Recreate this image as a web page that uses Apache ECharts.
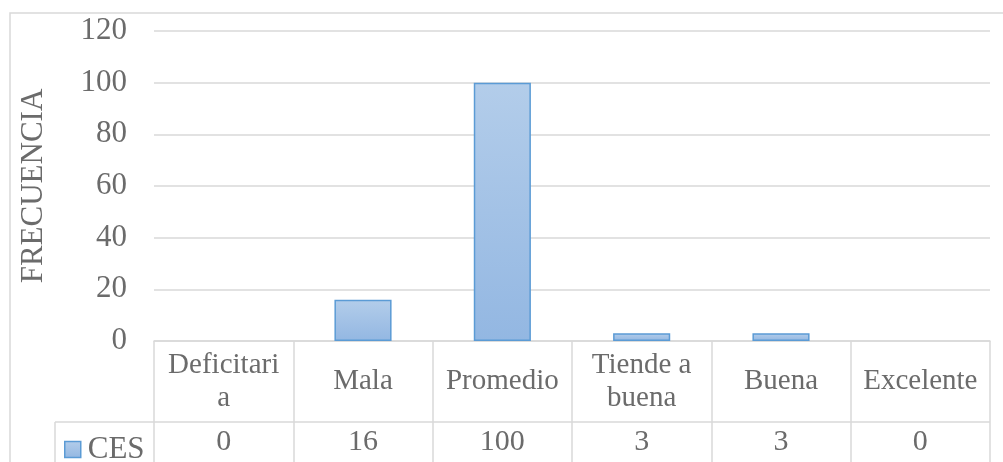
<!DOCTYPE html>
<html>
<head>
<meta charset="utf-8">
<script src="https://cdn.jsdelivr.net/npm/echarts@6/dist/echarts.min.js"></script>
<style>
  html, body { margin: 0; padding: 0; background: #fff; }
  #chart { width: 1003px; height: 462px; }
</style>
</head>
<body>
<div id="chart"></div>
<script>
var categories = ['Deficitari\na', 'Mala', 'Promedio', 'Tiende a\nbuena', 'Buena', 'Excelente'];
var cesValues = [0, 16, 100, 3, 3, 0];
var seriesName = 'CES';
var axisTitle = 'FRECUENCIA';

var chart = echarts.init(document.getElementById('chart'));

var textColor = '#6b6b6b';
var lineColor = '#d9d9d9';
var font = 'Liberation Serif';

// layout of the plot and data table
var plotLeft = 154, plotRight = 13, plotTop = 31, plotBottom = 121;
var labelRowH = 81;
var legendLeft = 55;

var barData = cesValues.map(function (v) {
    if (v === 0) {
        return { value: v, itemStyle: { borderWidth: 0, opacity: 0 } };
    }
    return v;
});

var option = {
    backgroundColor: '#fff',
    animation: false,
    textStyle: { fontFamily: font },
    legend: {
        data: [seriesName],
        left: 64,
        top: 434,
        itemWidth: 16,
        itemHeight: 16,
        itemGap: 0,
        padding: 0,
        icon: 'rect',
        itemStyle: { borderColor: '#5b9bd5', borderWidth: 1.5 },
        textStyle: { fontFamily: font, fontSize: 31, color: textColor, padding: [0, 0, 0, 2] }
    },
    grid: [
        { left: plotLeft, right: plotRight, top: plotTop, bottom: plotBottom },
        { left: plotLeft, right: plotRight, top: 462 - plotBottom, bottom: 0 }
    ],
    xAxis: [
        {
            type: 'category',
            gridIndex: 0,
            data: categories,
            axisLine: { show: true, lineStyle: { color: lineColor, width: 1.5 } },
            axisTick: { show: false },
            axisLabel: {
                interval: 0,
                margin: labelRowH / 2,
                verticalAlign: 'middle',
                lineHeight: 33,
                fontFamily: font,
                fontSize: 29,
                color: textColor
            }
        },
        {
            type: 'category',
            gridIndex: 0,
            position: 'bottom',
            data: cesValues.map(String),
            axisLine: { show: false },
            axisTick: { show: false },
            axisLabel: {
                interval: 0,
                margin: labelRowH + 20,
                verticalAlign: 'middle',
                fontFamily: font,
                fontSize: 30,
                color: textColor
            }
        },
        {
            type: 'category',
            gridIndex: 1,
            data: categories,
            axisLine: { show: false },
            axisTick: { show: false },
            axisLabel: { show: false },
            splitLine: { show: true, showMinLine: true, showMaxLine: true, lineStyle: { color: lineColor, width: 1.5 } }
        }
    ],
    yAxis: [
        {
            type: 'value',
            gridIndex: 0,
            min: 0,
            max: 120,
            interval: 20,
            name: axisTitle,
            nameLocation: 'middle',
            nameGap: 105,
            nameTextStyle: { fontFamily: font, fontSize: 31, color: textColor },
            axisLine: { show: false },
            axisTick: { show: false },
            axisLabel: { margin: 27, fontFamily: font, fontSize: 31, color: textColor },
            splitLine: { lineStyle: { color: lineColor, width: 1.5 } }
        },
        {
            type: 'value',
            gridIndex: 1,
            show: false
        }
    ],
    graphic: [
        {
            type: 'rect',
            shape: { x: 10, y: 13, width: 1100, height: 500 },
            style: { fill: 'none', stroke: lineColor, lineWidth: 1.5 },
            silent: true
        },
        {
            type: 'line',
            shape: { x1: legendLeft, y1: 462 - plotBottom + labelRowH, x2: 1003 - plotRight, y2: 462 - plotBottom + labelRowH },
            style: { stroke: lineColor, lineWidth: 1.5 },
            silent: true
        },
        {
            type: 'line',
            shape: { x1: legendLeft, y1: 462 - plotBottom + labelRowH, x2: legendLeft, y2: 470 },
            style: { stroke: lineColor, lineWidth: 1.5 },
            silent: true
        }
    ],
    series: [
        {
            name: seriesName,
            type: 'bar',
            xAxisIndex: 0,
            yAxisIndex: 0,
            barWidth: '41%',
            data: barData,
            itemStyle: {
                color: new echarts.graphic.LinearGradient(0, 0, 0, 1, [
                    { offset: 0, color: '#b3cdea' },
                    { offset: 1, color: '#93b7e2' }
                ]),
                borderColor: '#5b9bd5',
                borderWidth: 1.5
            }
        }
    ]
};

chart.setOption(option);
</script>
</body>
</html>
